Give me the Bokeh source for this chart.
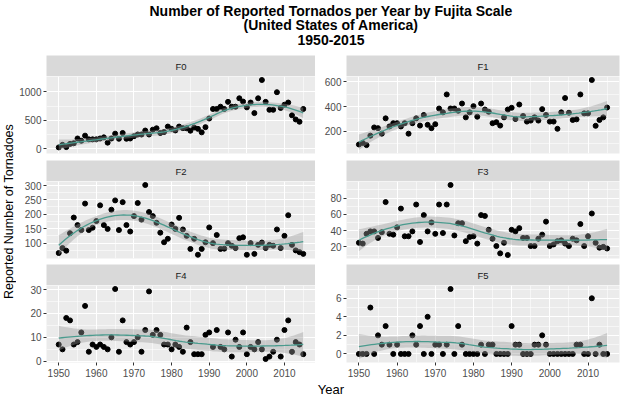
import numpy as np
from bokeh.plotting import figure
from bokeh.layouts import row, column
from bokeh.models import Range1d, LinearAxis, Grid, FixedTicker
from bokeh.core.properties import value
from bokeh.embed import file_html
from bokeh.resources import INLINE

# ---------------------------------------------------------------- data
years = list(range(1950, 2016))

f0 = [23, 68, 28, 85, 96, 180, 140, 230, 165, 165,
      165, 180, 200, 107, 180, 265, 175, 277, 175, 180,
      220, 250, 250, 320, 250, 335, 360, 277, 294, 390,
      350, 322, 390, 362, 360, 317, 373, 350, 288, 380,
      532, 700, 700, 740, 700, 825, 740, 740, 888, 830,
      728, 813, 627, 888, 1210, 825, 685, 685, 995, 718,
      775, 813, 588, 515, 475, 700]

f1 = [95, 108, 90, 166, 232, 226, 182, 305, 240, 266,
      266, 240, 266, 182, 266, 305, 247, 332, 253, 226,
      258, 384, 353, 497, 384, 384, 366, 424, 313, 353,
      403, 318, 424, 376, 358, 266, 274, 247, 313, 376,
      390, 300, 416, 324, 279, 287, 313, 287, 379, 332,
      279, 279, 221, 353, 468, 350, 292, 297, 497, 345,
      345, 613, 245, 292, 313, 392]

f2 = [66, 83, 74, 134, 188, 162, 145, 236, 145, 153,
      176, 230, 162, 149, 215, 247, 145, 241, 162, 140,
      193, 238, 181, 300, 207, 193, 170, 136, 103, 115,
      164, 149, 187, 147, 125, 80, 115, 60, 80, 103,
      154, 100, 128, 80, 81, 100, 91, 83, 117, 120,
      60, 100, 63, 94, 102, 83, 94, 91, 147, 83,
      125, 196, 94, 75, 69, 63]

f3 = [25, 24, 36, 39, 39, 31, 38, 75, 36, 35,
      44, 67, 33, 33, 39, 72, 26, 59, 39, 50,
      36, 72, 37, 72, 96, 34, 49, 49, 27, 32,
      33, 24, 59, 58, 41, 30, 21, 12, 25, 10,
      41, 39, 43, 31, 31, 21, 21, 30, 35, 51,
      21, 23, 27, 28, 24, 21, 30, 28, 48, 21,
      33, 61, 25, 19, 20, 18]

f4 = [7, 5, 18, 17, 7, 8, 12, 23, 4, 7,
      6, 7, 6, 5, 10, 30, 4, 17, 8, 7,
      8, 10, 4, 13, 29, 11, 13, 11, 7, 7,
      5, 7, 6, 4, 14, 8, 3, 3, 3, 11,
      12, 6, 13, 6, 5, 12, 2, 9, 6, 12,
      3, 6, 5, 8, 5, 1, 2, 4, 9, 2,
      13, 17, 4, 8, 7, 3]

f5 = [0, 0, 0, 5, 0, 2, 1, 3, 1, 0,
      1, 0, 0, 0, 2, 1, 3, 0, 4, 0,
      1, 1, 0, 1, 7, 0, 3, 1, 0, 0,
      0, 0, 1, 0, 1, 1, 0, 0, 0, 0,
      3, 1, 1, 0, 0, 0, 1, 1, 2, 1,
      0, 0, 0, 0, 0, 0, 0, 1, 1, 0,
      0, 6, 0, 1, 0, 0]

scale_names = ["F0", "F1", "F2", "F3", "F4", "F5"]
series = [f0, f1, f2, f3, f4, f5]

x_ticks = [1950, 1960, 1970, 1980, 1990, 2000, 2010]
x_minor = [1955, 1965, 1975, 1985, 1995, 2005, 2015]
y_ticks = [[0, 500, 1000], [200, 400, 600], [100, 150, 200, 250, 300],
           [20, 40, 60, 80], [0, 10, 20, 30], [0, 2, 4, 6]]
y_minor = [[250, 750], [100, 300, 500], [75, 125, 175, 225, 275],
           [10, 30, 50, 70, 90], [5, 15, 25], [1, 3, 5, 7]]

title_lines = ["Number of Reported Tornados per Year by Fujita Scale",
               "(United States of America)", "1950-2015"]
x_title = "Year"
y_title = "Reported Number of Tornadoes"

# ---------------------------------------------------------------- style
FONT = "Liberation Sans"
PANEL_BG = "#EBEBEB"
STRIP_BG = "#D9D9D9"
SMOOTH_COLOR = "#4A9B8E"
BAND_COLOR = "#999999"

W, H = 621, 398
FRAME_W, FRAME_H = 273, 77
STRIP_H = 21
HEADER_H = 55
FOOTER_H = 17
YLAB_W = 16
LEFT_A, RIGHT_A = 26, 0
LEFT_B, RIGHT_B = 31, 2
ROW_GAPS = [7, 6, 19]   # space under each panel row (last one holds the x axis)
TICK_FONT = "10px"


def loess_band(x, y, span=0.75, n_out=80):
    """Local quadratic loess fit with a 95% confidence band."""
    x = np.asarray(x, float)
    y = np.asarray(y, float)
    n = len(x)
    q = int(np.floor(n * span))

    def operator_row(x0):
        d = np.abs(x - x0)
        h = np.sort(d)[q - 1]
        u = np.clip(d / h, 0, 1)
        w = (1 - u ** 3) ** 3
        X = np.column_stack([np.ones(n), x - x0, (x - x0) ** 2])
        XtW = X.T * w
        return np.linalg.solve(XtW @ X, XtW)[0]

    L = np.array([operator_row(xi) for xi in x])
    M = np.eye(n) - L
    R = M.T @ M
    d1, d2 = np.trace(R), np.trace(R @ R)
    resid = y - L @ y
    sigma = np.sqrt(np.sum(resid ** 2) / d1)
    df = d1 ** 2 / d2
    z = 1.959964
    t = z + (z ** 3 + z) / (4 * df) + (5 * z ** 5 + 16 * z ** 3 + 3 * z) / (96 * df ** 2)
    xs = np.linspace(x.min(), x.max(), n_out)
    Ls = np.array([operator_row(x0) for x0 in xs])
    fit = Ls @ y
    se = sigma * np.sqrt(np.sum(Ls ** 2, axis=1))
    return xs, fit, fit - t * se, fit + t * se


x_pad = 0.05 * (max(years) - min(years))
x_lo, x_hi = min(years) - x_pad, max(years) + x_pad


def strip_figure(label, left, right):
    p = figure(width=left + FRAME_W + right, height=STRIP_H,
               x_range=Range1d(0, 1), y_range=Range1d(0, 1),
               x_axis_type=None, y_axis_type=None,
               toolbar_location=None, output_backend="svg",
               min_border=0, min_border_left=left, min_border_right=right,
               background_fill_color=STRIP_BG, border_fill_color="white",
               outline_line_color=None)
    p.text(x=[0.5], y=[0.5], text=[label], text_align="center",
           text_baseline="middle", text_font=value(FONT),
           text_font_size="9.5px", text_color="#1A1A1A")
    return p


def panel_figure(vals, ticks, minor, left, right, bottom, bottom_axis):
    xs, fit, lo, hi = loess_band(years, vals)
    ymin = min(min(vals), lo.min())
    ymax = max(max(vals), hi.max())
    pad = 0.05 * (ymax - ymin)
    p = figure(width=left + FRAME_W + right, height=FRAME_H + bottom,
               x_range=Range1d(x_lo, x_hi), y_range=Range1d(ymin - pad, ymax + pad),
               x_axis_type=None, y_axis_type=None,
               toolbar_location=None, output_backend="svg",
               min_border=0, min_border_left=left, min_border_right=right,
               min_border_top=0, min_border_bottom=bottom,
               background_fill_color=PANEL_BG, border_fill_color="white",
               outline_line_color=None)
    xt = FixedTicker(ticks=x_ticks, minor_ticks=x_minor)
    yt = FixedTicker(ticks=ticks, minor_ticks=minor)
    for dim, tk in ((0, xt), (1, yt)):
        p.add_layout(Grid(dimension=dim, ticker=tk, grid_line_color="white",
                          grid_line_width=1.1, minor_grid_line_color="white",
                          minor_grid_line_width=0.55))
    axes = [(LinearAxis(ticker=yt, major_label_standoff=1), "left")]
    if bottom_axis:
        axes.append((LinearAxis(ticker=xt, major_label_standoff=2), "below"))
    for ax, side in axes:
        ax.axis_line_color = None
        ax.major_tick_line_color = "#333333"
        ax.major_tick_out = 3
        ax.major_tick_in = 0
        ax.minor_tick_line_color = None
        ax.major_label_text_font = FONT
        ax.major_label_text_font_size = TICK_FONT
        ax.major_label_text_color = "#4D4D4D"
        p.add_layout(ax, side)

    p.scatter(years, vals, size=5, color="black")
    p.varea(x=xs, y1=lo, y2=hi, fill_color=BAND_COLOR, fill_alpha=0.4)
    p.line(xs, fit, line_color=SMOOTH_COLOR, line_width=1.3)
    return p


col_a, col_b = [], []
for r in range(3):
    for c, (col, left, right) in enumerate(((col_a, LEFT_A, RIGHT_A),
                                            (col_b, LEFT_B, RIGHT_B))):
        i = 2 * r + c
        col.append(strip_figure(scale_names[i], left, right))
        col.append(panel_figure(series[i], y_ticks[i], y_minor[i], left, right,
                                ROW_GAPS[r], bottom_axis=(r == 2)))

grid_h = sum(f.height for f in col_a)
title_cx = YLAB_W + LEFT_A + (FRAME_W + RIGHT_A + LEFT_B + FRAME_W) / 2

# header with the three title lines
header = figure(width=W, height=HEADER_H, x_range=Range1d(0, W),
                y_range=Range1d(HEADER_H, 0), x_axis_type=None, y_axis_type=None,
                toolbar_location=None, output_backend="svg", min_border=0,
                outline_line_color=None)
header.text(x=[title_cx] * 3, y=[10, 24.5, 39.5], text=title_lines,
            text_align="center", text_baseline="middle", text_font=value(FONT),
            text_font_style="bold", text_font_size="14px", text_color="black")

# rotated y-axis title, centred on the panel block
ylab = figure(width=YLAB_W, height=grid_h, x_range=Range1d(0, YLAB_W),
              y_range=Range1d(grid_h, 0), x_axis_type=None, y_axis_type=None,
              toolbar_location=None, output_backend="svg", min_border=0,
              outline_line_color=None)
ylab.text(x=[YLAB_W / 2], y=[211 - HEADER_H], text=[y_title], angle=np.pi / 2,
          text_align="center", text_baseline="middle", text_font=value(FONT),
          text_font_size="12.5px", text_color="black")

# x-axis title
footer = figure(width=W, height=FOOTER_H, x_range=Range1d(0, W),
                y_range=Range1d(FOOTER_H, 0), x_axis_type=None, y_axis_type=None,
                toolbar_location=None, output_backend="svg", min_border=0,
                outline_line_color=None)
footer.text(x=[title_cx], y=[8], text=[x_title], text_align="center",
            text_baseline="middle", text_font=value(FONT),
            text_font_size="13px", text_color="black")

layout = column(header, row(ylab, column(*col_a), column(*col_b)), footer)

open("out.html", "w").write(file_html(layout, INLINE))
